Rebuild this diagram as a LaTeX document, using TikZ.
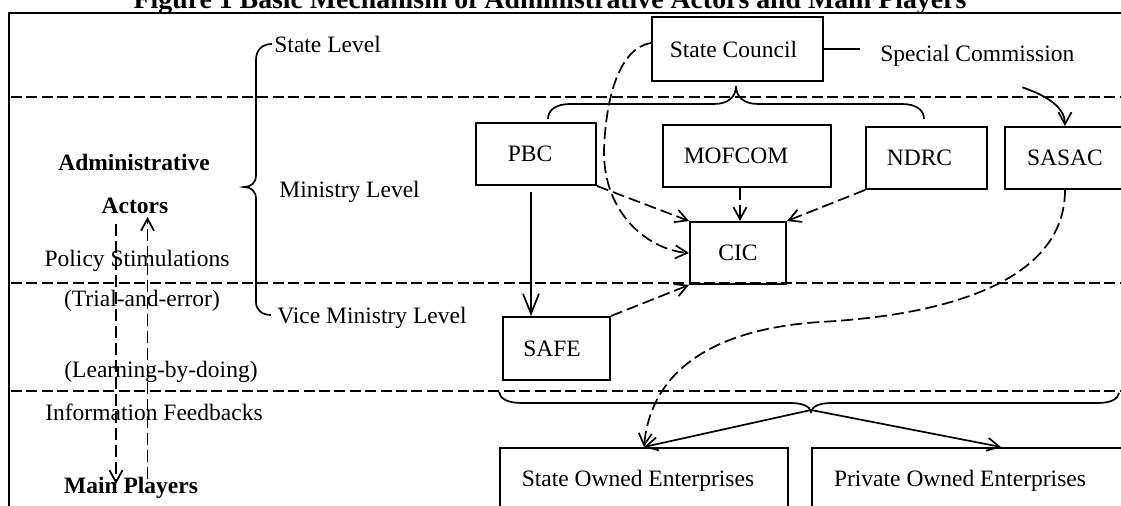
\documentclass[tikz,border=0pt]{standalone}
\usepackage{fontspec}
\setmainfont{Liberation Serif}
\usetikzlibrary{arrows.meta,calc}
\begin{document}
\begin{tikzpicture}[x=0.5pt,y=-0.5pt,
  every node/.style={font=\fontsize{11.75}{14}\selectfont},
  bold/.style={font=\fontsize{11.75}{14}\selectfont\bfseries},
  box/.style={draw,line width=1pt,inner sep=0pt},
  lbl/.style={inner sep=0pt,anchor=base},
  hdash/.style={line width=1pt,dash pattern=on 5.5pt off 2.2pt},
  con/.style={line width=0.85pt,-{Straight Barb[length=6pt,width=6.5pt]}},
  dcon/.style={con,dash pattern=on 6pt off 2.5pt},
  bigcon/.style={line width=0.85pt,-{Straight Barb[length=10pt,width=8pt]}},
  bracepath/.style={line width=0.85pt},
]
\useasboundingbox (0,0) rectangle (1121,506);

% frame
\draw[line width=1.25pt] (9,540) -- (9,13) -- (1140,13);
% title
\node[lbl,font=\fontsize{13.9}{16}\selectfont\bfseries] (title) at (550,9)
  {Figure 1 Basic Mechanism of Administrative Actors and Main Players};

% level separators
\draw[hdash] (11,97) -- (1130,97);
\draw[hdash] (11,283) -- (1130,283);
\draw[hdash] (11,391) -- (1130,391);

% boxes
\node[box,minimum width=85.5pt,minimum height=32pt] (SC) at (737.5,49) {State Council\hspace*{4pt}};
\node[box,minimum width=60pt,minimum height=31pt] (PBC) at (536,154) {PBC\hspace*{6pt}};
\node[box,minimum width=84pt,minimum height=31pt] (MOF) at (747,156) {MOFCOM\hspace*{11pt}};
\node[box,minimum width=60.5pt,minimum height=31pt] (NDRC) at (926.5,158) {NDRC\hspace*{7pt}};
\node[box,minimum width=60pt,minimum height=31pt] (SASAC) at (1065,158) {SASAC};
\node[box,minimum width=48pt,minimum height=31pt] (CIC) at (738,253) {CIC};
\node[box,minimum width=53.5pt,minimum height=31.5pt] (SAFE) at (556.5,348.5) {SAFE\hspace*{4.5pt}};
\node[box,minimum width=144pt,minimum height=32.5pt] (SOE) at (644,480.5) {State Owned Enterprises\hspace*{6pt}};
\node[box,minimum width=156.5pt,minimum height=32.5pt] (POE) at (968.5,480.5) {Private Owned Enterprises\hspace*{8.5pt}};

% labels
\node[lbl,anchor=base west] (stl) at (274,53) {State Level};
\node[lbl,anchor=base west] (mil) at (279,198) {Ministry Level};
\node[lbl,anchor=base west] (vml) at (277,324) {Vice Ministry Level};
\node[lbl,bold] (adm) at (134,171) {Administrative};
\node[lbl,bold] (Actors) at (135,214) {Actors};
\node[lbl] (pol) at (137,267) {Policy Stimulations};
\node[lbl] (tri) at (142,307) {(Trial-and-error)};
\node[lbl] (lea) at (161,378) {(Learning-by-doing)};
\node[lbl] (inf) at (154,421) {Information Feedbacks};
\node[lbl,bold] (Main) at (131,494) {Main Players};
\node[lbl,anchor=base west,inner xsep=10pt] (SpC) at (860,62) {Special Commission};

% braces
\draw[bracepath] (272,44) .. controls (262,44) and (256,50) .. (256,60) -- (256,175)
  .. controls (256,183) and (251,187) .. (244,187)
  .. controls (251,187) and (256,191) .. (256,199) -- (256,302)
  .. controls (256,310) and (262,315) .. (271,315);
\draw[bracepath] (548,119) .. controls (548,110) and (556,104) .. (570,104) -- (714,104)
  .. controls (728,104) and (736,97) .. (736,86)
  .. controls (736,97) and (744,104) .. (758,104) -- (902,104)
  .. controls (916,104) and (924,110) .. (924,119);
\draw[bracepath] (499,392) .. controls (500,399) and (508,403) .. (522,403) -- (790,403)
  .. controls (802,403) and (810,406) .. (811,412)
  .. controls (812,406) and (820,403) .. (832,403) -- (1098,403)
  .. controls (1111,403) and (1118,399) .. (1119,393);
\coordinate (bt) at (811,410);

% connectors
\draw[line width=0.85pt] (SC.east) -- (SC.east -| SpC.west);
\draw[con] ($(SpC.center)+(45,31)$) .. controls (1048,96) and (1065,108) .. (SASAC.north);
\coordinate (scw) at ($(SC.west)+(0,-6)$);
\draw[dcon] (scw) .. controls (620,48) and (606,95) .. (604,150)
  .. controls (603,215) and (650,250) .. (CIC.west);
\draw[dcon] (PBC.south east) -- (CIC.north west);
\draw[dcon] ($(CIC.north |- MOF.south)+(2,0)$) -- ($(CIC.north)+(2,0)$);
\draw[dcon] (NDRC.south west) -- (CIC.north east);
\draw[dcon] (SAFE.north east) -- (CIC.south west);
\coordinate (pbcs) at ($(PBC.south)+(-5,6)$);
\draw[bigcon] (pbcs) -- (pbcs |- SAFE.north);
\draw[dcon] (SASAC.south) .. controls (1065,280) and (950,315) .. (820,322)
  .. controls (700,330) and (650,380) .. (SOE.north);
\draw[con] (bt) -- (SOE.north);
\draw[con] (bt) -- ($(POE.north west)+(190,0)$);

% feedback arrows
\coordinate (dtop) at (116,224);
\coordinate (dbot) at (116,484);
\coordinate (utop) at (147.5,217);
\coordinate (ubot) at (147.5,479);
\draw[dcon] (dtop) -- (dbot);
\draw[dcon] (ubot) -- (utop);
\end{tikzpicture}
\end{document}
